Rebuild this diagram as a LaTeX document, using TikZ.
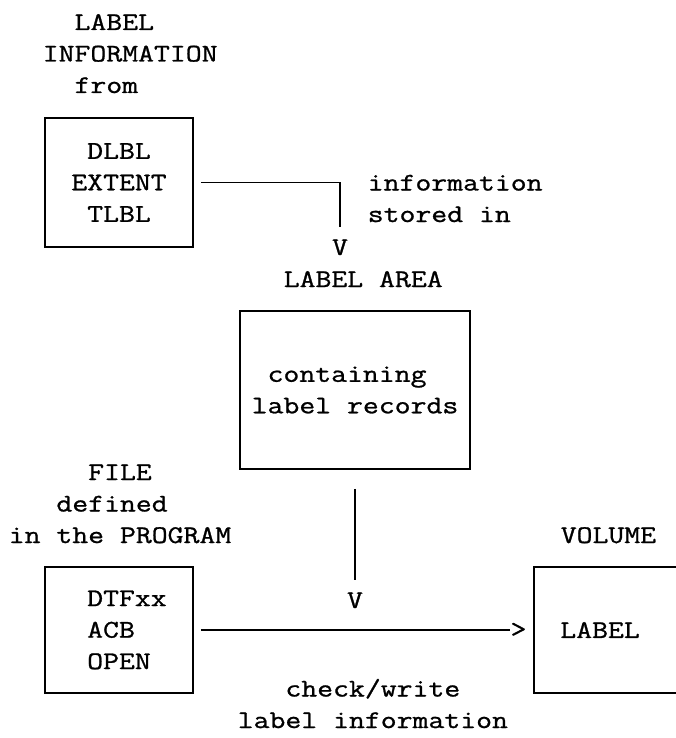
\documentclass[tikz,border=0pt]{standalone}
\usepackage{fontspec}
\setmonofont[FakeStretch=1.215,FakeBold=1]{Latin Modern Mono}
\tikzset{
  % Boxes and plain typed text, all in one mono face
  box node/.style={rectangle,draw,align=left,inner sep=0pt},
  type node/.style={align=left,inner sep=0pt},
  tip node/.style={inner sep=0pt}
}
\newcommand\gap{\hphantom{x}}

\begin{document}
\begin{tikzpicture}
[x=1pt,y=-1pt,
font=\ttfamily\fontsize{25.4}{31.5}\selectfont,
line width=1.5pt
]
\clip (0,0) rectangle (676,738);
% multi-line texts sit on the baseline of their last line
\node [type node,anchor=base west] (source) at (42,93) {\gap\gap LABEL\\INFORMATION\\\gap\gap from};
\node [box node,minimum width=148,minimum height=129] (cards) at (119,182.5) {\gap DLBL\\EXTENT\\\gap TLBL};
\node [tip node,anchor=base] (down1) at (340,255) {V};
\draw [shorten <=7pt,shorten >=12pt] (cards.east) -| (down1.north);
\node [type node,anchor=base west] (stored) at (367,222) {information\\stored in};
\node [type node,anchor=base west] (areaname) at (283,287) {LABEL AREA};
\node [box node,minimum width=230,minimum height=158] (area) at (355,390) {\gap containing\\label records};
\node [tip node,anchor=base] (down2) at (355,608) {V};
\draw [shorten <=19pt,shorten >=12pt] (area.south) -- (down2.north);
\node [type node,anchor=base west] (filename) at (8,543) {\gap\gap\gap\gap\gap FILE\\\gap\gap\gap defined\\in the PROGRAM};
\node [box node,minimum width=148,minimum height=126] (file) at (119,630) {\gap DTFxx\\\gap ACB\\\gap OPEN};
\node [type node,anchor=base west] (volname) at (560,543) {VOLUME};
\node [box node,minimum width=148,minimum height=126] (volume) at (608,630) {LABEL\gap};
\node [tip node] (across) at (518.5,630) {>};
\draw [shorten <=7pt] (file.east) -- (across.west);
\node [type node,anchor=base west] (action) at (237,728) {\gap\gap\gap check/write\\label information};
\end{tikzpicture}
\end{document}
